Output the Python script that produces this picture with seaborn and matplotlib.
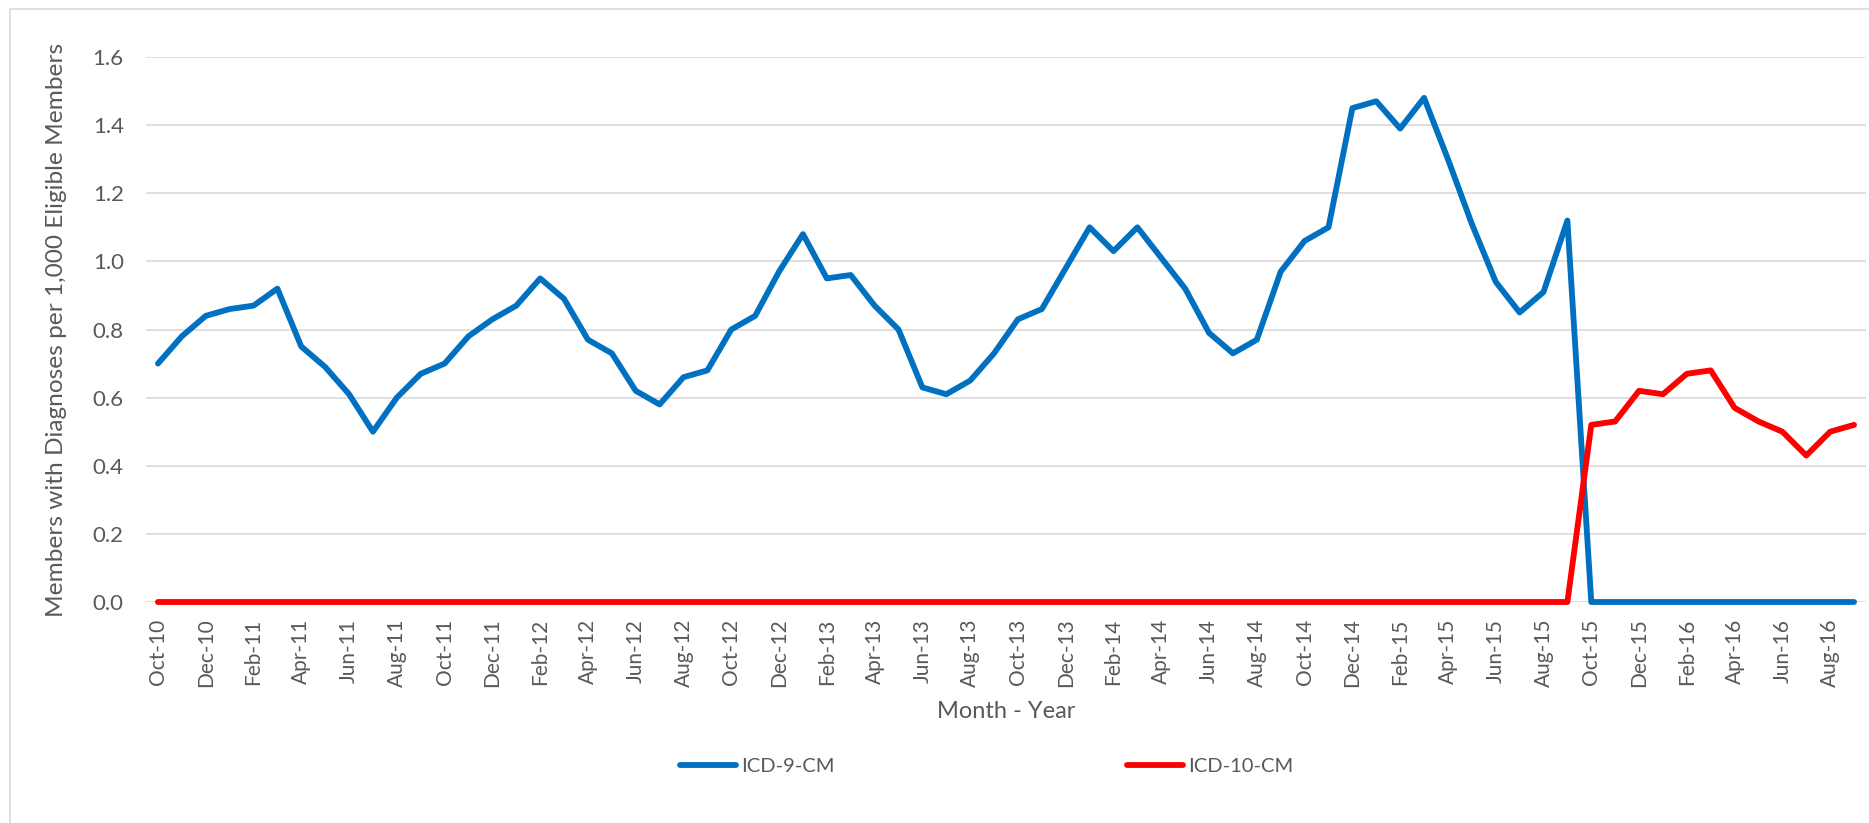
import matplotlib
matplotlib.use("Agg")
import matplotlib.pyplot as plt
from matplotlib.patches import Rectangle
import seaborn as sns
import pandas as pd
import numpy as np

months = [
    "Oct-10", "Nov-10", "Dec-10", "Jan-11", "Feb-11", "Mar-11", "Apr-11", "May-11", "Jun-11", "Jul-11", "Aug-11", "Sep-11",
    "Oct-11", "Nov-11", "Dec-11", "Jan-12", "Feb-12", "Mar-12", "Apr-12", "May-12", "Jun-12", "Jul-12", "Aug-12", "Sep-12",
    "Oct-12", "Nov-12", "Dec-12", "Jan-13", "Feb-13", "Mar-13", "Apr-13", "May-13", "Jun-13", "Jul-13", "Aug-13", "Sep-13",
    "Oct-13", "Nov-13", "Dec-13", "Jan-14", "Feb-14", "Mar-14", "Apr-14", "May-14", "Jun-14", "Jul-14", "Aug-14", "Sep-14",
    "Oct-14", "Nov-14", "Dec-14", "Jan-15", "Feb-15", "Mar-15", "Apr-15", "May-15", "Jun-15", "Jul-15", "Aug-15", "Sep-15",
    "Oct-15", "Nov-15", "Dec-15", "Jan-16", "Feb-16", "Mar-16", "Apr-16", "May-16", "Jun-16", "Jul-16", "Aug-16", "Sep-16",
]

icd9 = [
    0.70, 0.78, 0.84, 0.86, 0.87, 0.92, 0.75, 0.69, 0.61, 0.50, 0.60, 0.67,
    0.70, 0.78, 0.83, 0.87, 0.95, 0.89, 0.77, 0.73, 0.62, 0.58, 0.66, 0.68,
    0.80, 0.84, 0.97, 1.08, 0.95, 0.96, 0.87, 0.80, 0.63, 0.61, 0.65, 0.73,
    0.83, 0.86, 0.98, 1.10, 1.03, 1.10, 1.01, 0.92, 0.79, 0.73, 0.77, 0.97,
    1.06, 1.10, 1.45, 1.47, 1.39, 1.48, 1.30, 1.11, 0.94, 0.85, 0.91, 1.12,
    0.00, 0.00, 0.00, 0.00, 0.00, 0.00, 0.00, 0.00, 0.00, 0.00, 0.00, 0.00,
]

icd10 = [
    0.00, 0.00, 0.00, 0.00, 0.00, 0.00, 0.00, 0.00, 0.00, 0.00, 0.00, 0.00,
    0.00, 0.00, 0.00, 0.00, 0.00, 0.00, 0.00, 0.00, 0.00, 0.00, 0.00, 0.00,
    0.00, 0.00, 0.00, 0.00, 0.00, 0.00, 0.00, 0.00, 0.00, 0.00, 0.00, 0.00,
    0.00, 0.00, 0.00, 0.00, 0.00, 0.00, 0.00, 0.00, 0.00, 0.00, 0.00, 0.00,
    0.00, 0.00, 0.00, 0.00, 0.00, 0.00, 0.00, 0.00, 0.00, 0.00, 0.00, 0.00,
    0.52, 0.53, 0.62, 0.61, 0.67, 0.68, 0.57, 0.53, 0.50, 0.43, 0.50, 0.52,
]

series_names = ["ICD-9-CM", "ICD-10-CM"]
colors = {"ICD-9-CM": "#0070C0", "ICD-10-CM": "#FF0000"}
y_ticks = [0.0, 0.2, 0.4, 0.6, 0.8, 1.0, 1.2, 1.4, 1.6]

sns.set_theme(style="white")
plt.rcParams["font.family"] = ["Lato", "DejaVu Sans"]
text_color = "#595959"

df = pd.DataFrame({
    "pos": list(range(len(months))) * 2,
    "value": icd9 + icd10,
    "series": [series_names[0]] * len(months) + [series_names[1]] * len(months),
})

fig = plt.figure(figsize=(18.69, 8.23), dpi=100)
ax = fig.add_axes([146 / 1869, 1 - 602 / 823, (1866 - 146) / 1869, (602 - 57) / 823])

sns.lineplot(data=df, x="pos", y="value", hue="series", hue_order=series_names,
             palette=colors, linewidth=4.2, ax=ax, sort=False)
for ln in ax.get_lines():
    ln.set_clip_on(False)
    ln.set_solid_capstyle("round")
    ln.set_solid_joinstyle("round")

ax.set_xlim(-0.5, len(months) - 0.5)
ax.set_ylim(0, 1.6)
ax.set_yticks(y_ticks)
ax.set_yticklabels([f"{v:.1f}" for v in y_ticks])
ax.set_xticks(range(0, len(months), 2))
ax.set_xticklabels(months[::2], rotation=90)
ax.tick_params(axis="x", length=0, labelsize=15, colors=text_color, pad=12)
ax.tick_params(axis="y", length=0, labelsize=16, colors=text_color, pad=16)
ax.yaxis.grid(True, color="#D9D9D9", linewidth=1.2)
ax.set_axisbelow(True)
for s in ax.spines.values():
    s.set_visible(False)

ax.set_xlabel("Month - Year", fontsize=17, color=text_color, labelpad=10)
ax.set_ylabel("Members with Diagnoses per 1,000 Eligible Members", fontsize=17.6,
              color=text_color)
ax.yaxis.set_label_coords(-0.046, 0.5)

sns.move_legend(ax, "center", bbox_to_anchor=(0.528, 0.069), bbox_transform=fig.transFigure,
                ncol=2, frameon=False, title=None, fontsize=14.5, handlelength=2.8,
                handletextpad=0.25, columnspacing=14.5)
for t in ax.get_legend().get_texts():
    t.set_color(text_color)

fig.patches.append(Rectangle((10 / 1869, -0.1), 2, 1 - 9 / 823 + 0.1, transform=fig.transFigure,
                             fill=False, edgecolor="#D9D9D9", linewidth=1.2))

fig.savefig("out.png", dpi=100, facecolor="white")
